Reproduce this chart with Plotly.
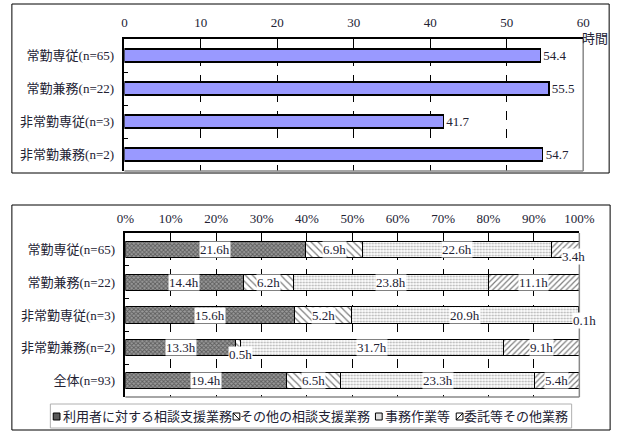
import plotly.graph_objects as go

W, H = 628, 436

# top chart: average weekly hours
groups = ["常勤専従(n=65)", "常勤兼務(n=22)", "非常勤専従(n=3)", "非常勤兼務(n=2)"]
hours = [54.4, 55.5, 41.7, 54.7]

# bottom chart: breakdown of hours
groups2 = ["常勤専従(n=65)", "常勤兼務(n=22)", "非常勤専従(n=3)", "非常勤兼務(n=2)", "全体(n=93)"]
tasks = ["利用者に対する相談支援業務", "その他の相談支援業務", "事務作業等", "委託等その他業務"]
task_hours = [
    [21.6, 14.4, 15.6, 13.3, 19.4],
    [6.9, 6.2, 5.2, 0.5, 6.5],
    [22.6, 23.8, 20.9, 31.7, 23.3],
    [3.4, 11.1, 0.1, 9.1, 5.4],
]
pct_ticks = list(range(0, 101, 10))

SERIF = "Liberation Serif, Noto Sans CJK JP, serif"
TXT = "#222233"
FS = 13

patterns = [
    dict(shape="x", fgcolor="#202020", bgcolor="#9a9a9a", size=3, solidity=0.5),
    dict(shape="\\", fgcolor="#000000", bgcolor="#ffffff", size=5, solidity=0.25),
    dict(shape=".", fgcolor="#606060", bgcolor="#ffffff", size=3, solidity=0.35),
    dict(shape="/", fgcolor="#000000", bgcolor="#ffffff", size=4, solidity=0.3),
]
# a few labels are nudged by hand like in the original (series, row): (dx, dy)
label_shift = {(3, 0): (8, -7), (3, 2): (6, -5), (1, 3): (2, -7)}
# hand-made legend: swatch left edge and text centre, in pixels
legend_swatch_x = [46, 233, 381, 465]
legend_text_cx = [144, 308, 425, 527]


def px(x):
    return x / W


def py(y):
    return 1 - y / H


fig = go.Figure()

fig.add_trace(go.Bar(
    y=groups, x=hours, orientation="h", width=0.38,
    marker=dict(color="#9999ff", line=dict(color="#000000", width=1.5)),
    text=[f"{v:.1f}" for v in hours], textposition="outside", constraintext="none",
    textfont=dict(family=SERIF, size=FS, color=TXT), cliponaxis=False,
    xaxis="x", yaxis="y", showlegend=False, hoverinfo="skip",
))

totals = [sum(col) for col in zip(*task_hours)]
shares = [[h / t * 100 for h, t in zip(row, totals)] for row in task_hours]

for i, name in enumerate(tasks):
    fig.add_trace(go.Bar(
        y=groups2, x=shares[i], orientation="h", width=0.49, name=name,
        marker=dict(color=patterns[i]["bgcolor"], pattern=patterns[i],
                    line=dict(color="#000000", width=1)),
        xaxis="x2", yaxis="y2", hoverinfo="skip", showlegend=False,
    ))

annotations = []
for j, g in enumerate(groups2):
    start = 0
    for i in range(len(tasks)):
        s = shares[i][j]
        dx, dy = label_shift.get((i, j), (0, 0))
        annotations.append(dict(
            x=start + s / 2, y=g, xref="x2", yref="y2", text=f"{task_hours[i][j]}h",
            xanchor="center", yanchor="middle",
            showarrow=False, bgcolor="#ffffff", borderpad=0, xshift=dx, yshift=dy,
            font=dict(family=SERIF, size=FS, color=TXT),
        ))
        start += s

annotations.append(dict(
    x=px(609), y=py(39), xref="paper", yref="paper", text="時間", showarrow=False,
    xanchor="center", yanchor="middle", font=dict(family=SERIF, size=FS, color=TXT),
))

shapes = [
    # panel frames
    dict(type="rect", xref="paper", yref="paper", x0=px(3), x1=px(624), y0=py(173), y1=py(4),
         line=dict(color="#000000", width=1)),
    dict(type="rect", xref="paper", yref="paper", x0=px(3), x1=px(625), y0=py(430), y1=py(205),
         line=dict(color="#000000", width=1)),
    # legend box
    dict(type="rect", xref="paper", yref="paper", x0=px(43), x1=px(585), y0=py(428), y1=py(404),
         line=dict(color="#b0b0b0", width=1), fillcolor="#ffffff"),
]
for xr, yr in (("x", "y"), ("x2", "y2")):
    shapes.append(dict(type="line", xref=f"{xr} domain", yref=f"{yr} domain", x0=1, x1=1, y0=0, y1=1,
                       line=dict(color="#888888", width=1.5)))
    shapes.append(dict(type="line", xref=f"{xr} domain", yref=f"{yr} domain", x0=0, x1=1, y0=0, y1=0,
                       line=dict(color="#888888", width=1.5)))

swatch_fill = ["#5a5a5a", "#ffffff", "#e0e0e0", "#ffffff"]
for i, name in enumerate(tasks):
    sx = legend_swatch_x[i]
    y0, y1 = py(420), py(413)
    shapes.append(dict(type="rect", xref="paper", yref="paper", x0=px(sx), x1=px(sx + 7), y0=y0, y1=y1,
                       line=dict(color="#000000", width=1), fillcolor=swatch_fill[i]))
    if patterns[i]["shape"] in ("\\", "/"):
        a, b = (y1, y0) if patterns[i]["shape"] == "\\" else (y0, y1)
        shapes.append(dict(type="line", xref="paper", yref="paper", x0=px(sx), x1=px(sx + 7), y0=a, y1=b,
                           line=dict(color="#000000", width=1)))
    annotations.append(dict(
        x=px(legend_text_cx[i]), y=py(416.5), xref="paper", yref="paper", text=name,
        xanchor="center", yanchor="middle",
        showarrow=False, borderpad=0, font=dict(family=SERIF, size=FS, color=TXT),
    ))

axis_x = dict(
    side="top", showline=True, linecolor="#000000", linewidth=1.5,
    showgrid=True, gridcolor="#000000", griddash="dash", gridwidth=1,
    ticks="", ticklabelstandoff=3, zeroline=False,
    tickfont=dict(family=SERIF, size=FS, color=TXT),
)
axis_y = dict(
    autorange="reversed", showline=True, linecolor="#000000", linewidth=1.5,
    ticks="inside", ticklen=4, tickcolor="#000000", tickson="boundaries",
    showgrid=False, ticklabelstandoff=6,
    tickfont=dict(family=SERIF, size=FS, color=TXT),
)

fig.update_layout(
    width=W, height=H, margin=dict(l=0, r=0, t=0, b=0),
    paper_bgcolor="#ffffff", plot_bgcolor="#ffffff",
    barmode="stack", showlegend=False,
    xaxis=dict(axis_x, domain=[px(120), px(597)], anchor="y", range=[0, 60],
               tickvals=[0, 10, 20, 30, 40, 50, 60], ticklabelstandoff=5),
    yaxis=dict(axis_y, domain=[py(171), py(39)], anchor="x"),
    xaxis2=dict(axis_x, domain=[px(121), px(593)], anchor="y2", range=[0, 100],
                tickvals=pct_ticks, ticktext=[f"{t}%" for t in pct_ticks]),
    yaxis2=dict(axis_y, domain=[py(397), py(233)], anchor="x2"),
    annotations=annotations,
    shapes=shapes,
)

# drop the browser's default body margin so the 628x436 figure fills the window
page_css = (
    "var s=document.createElement('style');"
    "s.textContent='html,body{margin:0 !important;padding:0 !important;overflow:hidden;}';"
    "document.head.appendChild(s);"
)
fig.write_html("out.html", config={"displayModeBar": False}, post_script=page_css)
